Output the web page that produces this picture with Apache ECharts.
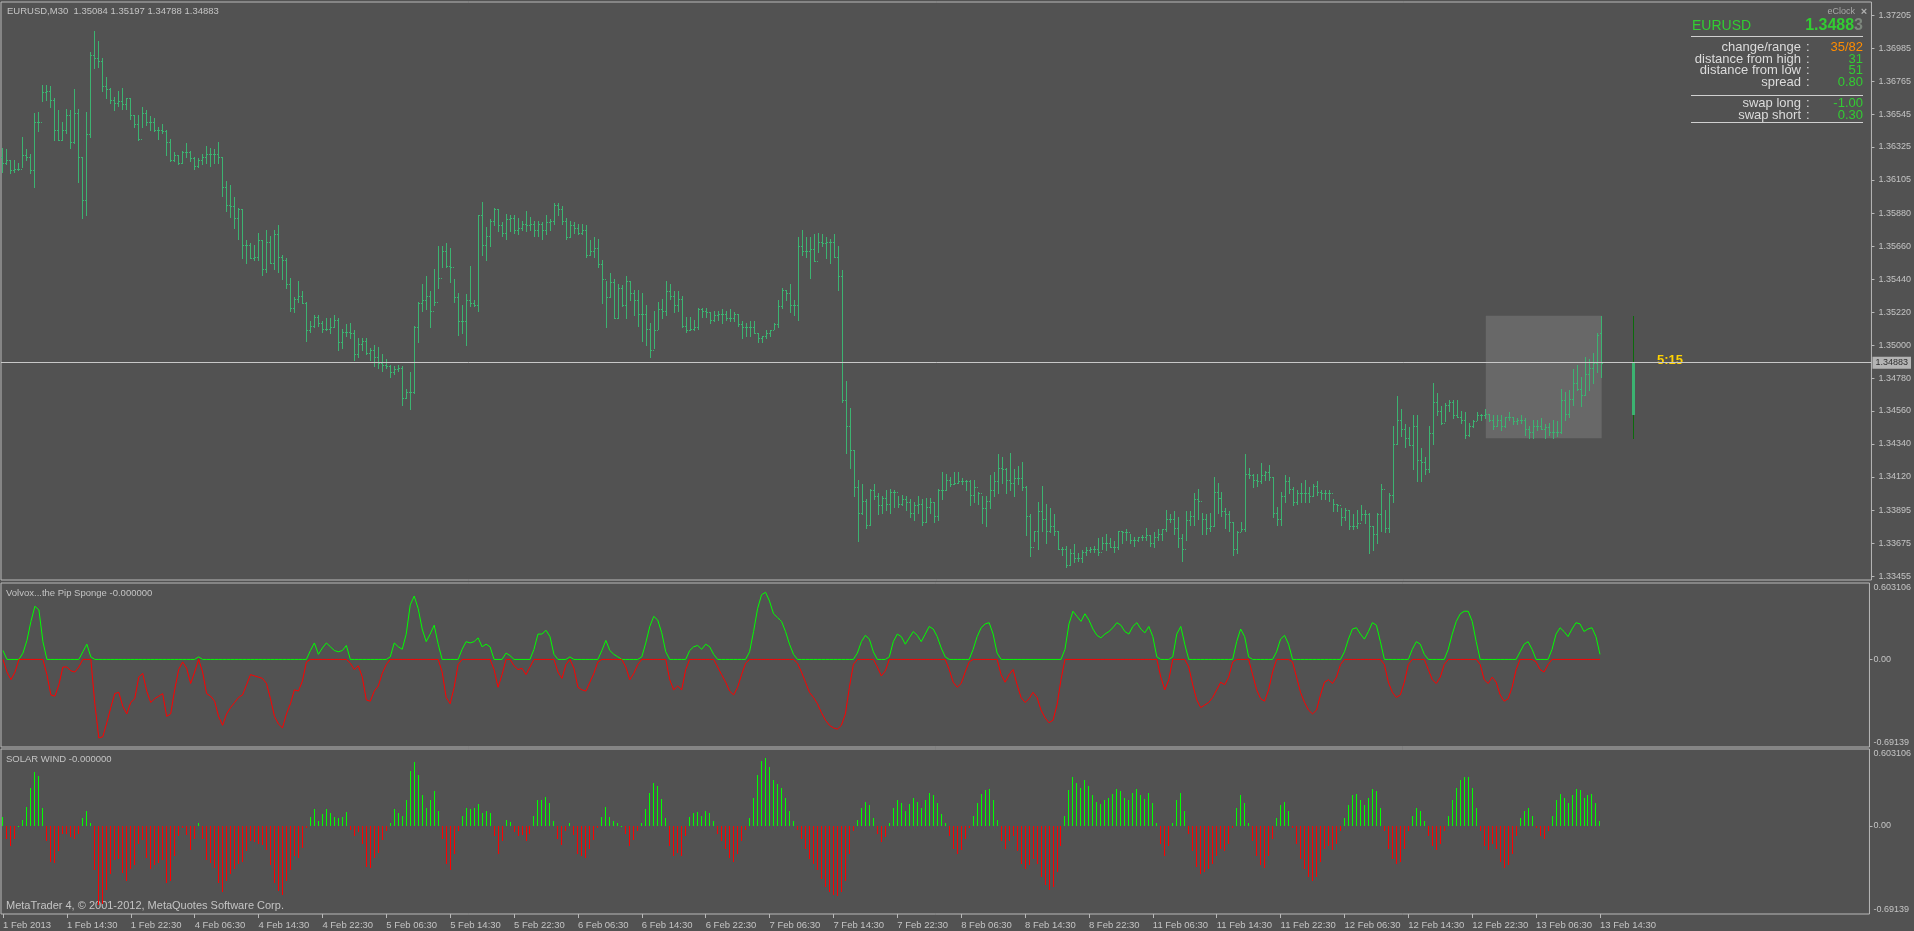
<!DOCTYPE html>
<html>
<head>
<meta charset="utf-8">
<title>EURUSD,M30</title>
<script src="https://cdn.jsdelivr.net/npm/echarts@6/dist/echarts.min.js"></script>
<style>
  html, body { margin: 0; padding: 0; background: #525252; }
  #chart { width: 1914px; height: 931px; }
</style>
</head>
<body>
<div id="chart"></div>
<script>
// ---- data (EURUSD M30, 1 Feb 2013 .. 13 Feb 14:30) ----
const timeLabels = ["1 Feb 2013", "1 Feb 14:30", "1 Feb 22:30", "4 Feb 06:30", "4 Feb 14:30", "4 Feb 22:30",
  "5 Feb 06:30", "5 Feb 14:30", "5 Feb 22:30", "6 Feb 06:30", "6 Feb 14:30", "6 Feb 22:30",
  "7 Feb 06:30", "7 Feb 14:30", "7 Feb 22:30", "8 Feb 06:30", "8 Feb 14:30", "8 Feb 22:30",
  "11 Feb 06:30", "11 Feb 14:30", "11 Feb 22:30", "12 Feb 06:30", "12 Feb 14:30", "12 Feb 22:30",
  "13 Feb 06:30", "13 Feb 14:30"];
const priceTicks = [1.37205, 1.36985, 1.36765, 1.36545, 1.36325, 1.36105, 1.35880, 1.35660, 1.35440,
  1.35220, 1.35000, 1.34780, 1.34560, 1.34340, 1.34120, 1.33895, 1.33675, 1.33455];
const indTicks = [0.603106, 0, -0.69139];
const indTickText = ["0.603106", "0.00", "-0.69139"];

const open = [
1.3626,1.3622,1.3624,1.3617,1.3618,1.3618,1.3627,1.3626,1.3617,1.3649,
1.3649,1.3669,1.3670,1.3664,1.3644,1.3637,1.3644,1.3654,1.3636,1.3655,
1.3626,1.3597,1.3641,1.3694,1.3692,1.3690,1.3673,1.3671,1.3664,1.3662,
1.3663,1.3661,1.3665,1.3654,1.3648,1.3638,1.3655,1.3649,1.3649,1.3644,
1.3644,1.3643,1.3636,1.3624,1.3627,1.3622,1.3629,1.3629,1.3625,1.3620,
1.3624,1.3626,1.3628,1.3628,1.3628,1.3626,1.3606,1.3594,1.3593,1.3585,
1.3591,1.3567,1.3567,1.3558,1.3559,1.3570,1.3551,1.3569,1.3555,1.3574,
1.3559,1.3557,1.3541,1.3525,1.3531,1.3533,1.3528,1.3510,1.3513,1.3519,
1.3515,1.3511,1.3511,1.3512,1.3517,1.3502,1.3509,1.3509,1.3508,1.3494,
1.3501,1.3503,1.3495,1.3497,1.3492,1.3488,1.3487,1.3486,1.3482,1.3484,
1.3485,1.3465,1.3469,1.3469,1.3512,1.3528,1.3530,1.3533,1.3523,1.3529,
1.3545,1.3563,1.3553,1.3552,1.3532,1.3516,1.3516,1.3530,1.3528,1.3527,
1.3587,1.3567,1.3573,1.3583,1.3591,1.3580,1.3575,1.3584,1.3585,1.3577,
1.3578,1.3581,1.3580,1.3581,1.3577,1.3581,1.3577,1.3582,1.3583,1.3594,
1.3591,1.3583,1.3572,1.3580,1.3578,1.3575,1.3577,1.3560,1.3563,1.3565,
1.3554,1.3544,1.3532,1.3542,1.3518,1.3538,1.3527,1.3543,1.3535,1.3530,
1.3521,1.3521,1.3511,1.3497,1.3510,1.3524,1.3523,1.3536,1.3533,1.3527,
1.3531,1.3513,1.3510,1.3511,1.3512,1.3524,1.3523,1.3522,1.3517,1.3520,
1.3521,1.3521,1.3518,1.3518,1.3521,1.3514,1.3512,1.3512,1.3512,1.3508,
1.3505,1.3506,1.3508,1.3510,1.3514,1.3526,1.3537,1.3535,1.3527,1.3527,
1.3566,1.3563,1.3563,1.3564,1.3556,1.3569,1.3568,1.3569,1.3569,1.3559,
1.3546,1.3463,1.3446,1.3430,1.3405,1.3388,1.3396,1.3380,1.3403,1.3399,
1.3393,1.3398,1.3394,1.3402,1.3402,1.3394,1.3397,1.3395,1.3388,1.3393,
1.3394,1.3382,1.3392,1.3395,1.3386,1.3403,1.3403,1.3410,1.3407,1.3408,
1.3409,1.3409,1.3409,1.3400,1.3405,1.3401,1.3391,1.3396,1.3403,1.3409,
1.3418,1.3417,1.3410,1.3408,1.3411,1.3411,1.3405,1.3386,1.3365,1.3376,
1.3389,1.3384,1.3376,1.3379,1.3376,1.3364,1.3364,1.3353,1.3361,1.3358,
1.3358,1.3362,1.3363,1.3364,1.3364,1.3362,1.3368,1.3368,1.3365,1.3365,
1.3376,1.3375,1.3375,1.3370,1.3370,1.3372,1.3372,1.3373,1.3368,1.3372,
1.3374,1.3377,1.3384,1.3384,1.3378,1.3371,1.3364,1.3383,1.3386,1.3397,
1.3396,1.3384,1.3378,1.3379,1.3402,1.3398,1.3389,1.3387,1.3382,1.3364,
1.3375,1.3377,1.3414,1.3413,1.3410,1.3409,1.3413,1.3415,1.3412,1.3388,
1.3384,1.3399,1.3409,1.3404,1.3395,1.3401,1.3401,1.3401,1.3399,1.3406,
1.3402,1.3401,1.3401,1.3401,1.3394,1.3393,1.3385,1.3390,1.3379,1.3379,
1.3381,1.3387,1.3387,1.3379,1.3374,1.3387,1.3404,1.3378,1.3400,1.3434,
1.3450,1.3444,1.3438,1.3433,1.3446,1.3423,1.3422,1.3417,1.3441,1.3462,
1.3456,1.3448,1.3460,1.3462,1.3453,1.3452,1.3450,1.3440,1.3446,1.3449,
1.3453,1.3453,1.3454,1.3450,1.3446,1.3450,1.3446,1.3452,1.3452,1.3449,
1.3450,1.3450,1.3444,1.3442,1.3446,1.3446,1.3444,1.3445,1.3442,1.3442,
1.3442,1.3463,1.3454,1.3464,1.3475,1.3471,1.3467,1.3481,1.3485,1.3488,
1.35084];

const high = [
1.3632,1.3631,1.3624,1.3624,1.3622,1.3639,1.3631,1.3628,1.3655,1.3656,
1.3674,1.3674,1.3673,1.3665,1.3657,1.3649,1.3658,1.3657,1.3671,1.3658,
1.3626,1.3656,1.3696,1.3710,1.3703,1.3692,1.3679,1.3672,1.3666,1.3670,
1.3672,1.3665,1.3665,1.3654,1.3654,1.3659,1.3657,1.3653,1.3652,1.3646,
1.3648,1.3644,1.3638,1.3629,1.3627,1.3630,1.3635,1.3630,1.3626,1.3625,
1.3628,1.3633,1.3632,1.3631,1.3636,1.3626,1.3610,1.3607,1.3599,1.3592,
1.3591,1.3570,1.3568,1.3567,1.3575,1.3570,1.3577,1.3573,1.3577,1.3580,
1.3560,1.3558,1.3545,1.3532,1.3543,1.3536,1.3529,1.3516,1.3520,1.3520,
1.3516,1.3518,1.3518,1.3520,1.3518,1.3511,1.3514,1.3515,1.3510,1.3505,
1.3505,1.3505,1.3498,1.3500,1.3499,1.3494,1.3491,1.3487,1.3486,1.3487,
1.3486,1.3471,1.3482,1.3513,1.3529,1.3541,1.3546,1.3536,1.3551,1.3566,
1.3566,1.3568,1.3565,1.3544,1.3535,1.3527,1.3534,1.3553,1.3530,1.3587,
1.3596,1.3579,1.3584,1.3592,1.3591,1.3582,1.3588,1.3587,1.3587,1.3585,
1.3583,1.3590,1.3586,1.3583,1.3583,1.3582,1.3587,1.3584,1.3595,1.3595,
1.3593,1.3585,1.3583,1.3582,1.3581,1.3581,1.3580,1.3570,1.3572,1.3571,
1.3557,1.3543,1.3548,1.3544,1.3541,1.3540,1.3546,1.3543,1.3537,1.3537,
1.3535,1.3527,1.3515,1.3523,1.3529,1.3531,1.3543,1.3541,1.3536,1.3536,
1.3533,1.3519,1.3519,1.3517,1.3525,1.3525,1.3525,1.3522,1.3523,1.3523,
1.3524,1.3523,1.3524,1.3522,1.3521,1.3516,1.3515,1.3516,1.3516,1.3508,
1.3506,1.3510,1.3510,1.3515,1.3530,1.3538,1.3537,1.3541,1.3530,1.3572,
1.3577,1.3572,1.3572,1.3574,1.3575,1.3574,1.3572,1.3571,1.3574,1.3566,
1.3550,1.3476,1.3458,1.3430,1.3410,1.3407,1.3397,1.3404,1.3407,1.3401,
1.3399,1.3403,1.3404,1.3403,1.3399,1.3400,1.3399,1.3397,1.3395,1.3399,
1.3397,1.3398,1.3398,1.3395,1.3404,1.3415,1.3414,1.3412,1.3415,1.3415,
1.3411,1.3410,1.3410,1.3410,1.3402,1.3399,1.3399,1.3413,1.3415,1.3427,
1.3425,1.3418,1.3428,1.3417,1.3419,1.3422,1.3406,1.3387,1.3376,1.3395,
1.3406,1.3394,1.3391,1.3387,1.3376,1.3365,1.3366,1.3364,1.3367,1.3361,
1.3363,1.3365,1.3365,1.3366,1.3371,1.3372,1.3374,1.3371,1.3369,1.3376,
1.3376,1.3377,1.3374,1.3372,1.3372,1.3373,1.3378,1.3373,1.3375,1.3377,
1.3377,1.3390,1.3387,1.3389,1.3385,1.3374,1.3389,1.3389,1.3401,1.3404,
1.3388,1.3387,1.3388,1.3412,1.3408,1.3402,1.3391,1.3389,1.3382,1.3376,
1.3382,1.3427,1.3418,1.3414,1.3414,1.3421,1.3416,1.3420,1.3412,1.3392,
1.3402,1.3413,1.3412,1.3405,1.3403,1.3408,1.3410,1.3405,1.3407,1.3409,
1.3403,1.3403,1.3403,1.3397,1.3394,1.3391,1.3391,1.3390,1.3387,1.3390,
1.3393,1.3390,1.3388,1.3379,1.3388,1.3407,1.3390,1.3401,1.3446,1.3466,
1.3457,1.3447,1.3445,1.3453,1.3453,1.3431,1.3425,1.3446,1.3475,1.3468,
1.3459,1.3461,1.3463,1.3463,1.3463,1.3456,1.3455,1.3448,1.3450,1.3455,
1.3454,1.3457,1.3454,1.3453,1.3453,1.3453,1.3452,1.3455,1.3452,1.3451,
1.3453,1.3451,1.3446,1.3450,1.3450,1.3451,1.3447,1.3448,1.3450,1.3449,
1.3471,1.3469,1.3470,1.3484,1.3487,1.3479,1.3492,1.3491,1.3495,1.3508,
1.35197];

const low = [
1.3616,1.3621,1.3615,1.3616,1.3617,1.3619,1.3624,1.3615,1.3606,1.3643,
1.3663,1.3664,1.3659,1.3637,1.3637,1.3637,1.3642,1.3632,1.3635,1.3609,
1.3585,1.3587,1.3639,1.3685,1.3686,1.3670,1.3665,1.3662,1.3657,1.3660,
1.3658,1.3658,1.3651,1.3646,1.3637,1.3646,1.3647,1.3644,1.3643,1.3638,
1.3642,1.3627,1.3623,1.3623,1.3621,1.3622,1.3626,1.3623,1.3618,1.3619,
1.3621,1.3622,1.3620,1.3622,1.3622,1.3600,1.3590,1.3586,1.3578,1.3571,
1.3558,1.3555,1.3558,1.3557,1.3557,1.3547,1.3549,1.3555,1.3551,1.3549,
1.3544,1.3538,1.3523,1.3522,1.3529,1.3528,1.3503,1.3509,1.3512,1.3513,
1.3509,1.3510,1.3508,1.3512,1.3497,1.3498,1.3506,1.3505,1.3490,1.3492,
1.3497,1.3494,1.3490,1.3486,1.3485,1.3483,1.3485,1.3479,1.3481,1.3483,
1.3460,1.3465,1.3457,1.3468,1.3502,1.3523,1.3524,1.3512,1.3527,1.3538,
1.3552,1.3552,1.3542,1.3529,1.3507,1.3508,1.3500,1.3526,1.3526,1.3523,
1.3560,1.3557,1.3566,1.3580,1.3576,1.3573,1.3571,1.3576,1.3575,1.3574,
1.3577,1.3576,1.3577,1.3573,1.3573,1.3571,1.3574,1.3577,1.3581,1.3587,
1.3581,1.3571,1.3572,1.3575,1.3574,1.3574,1.3559,1.3560,1.3559,1.3552,
1.3528,1.3512,1.3532,1.3518,1.3518,1.3526,1.3518,1.3530,1.3520,1.3513,
1.3503,1.3500,1.3492,1.3498,1.3511,1.3518,1.3520,1.3531,1.3522,1.3523,
1.3512,1.3509,1.3510,1.3510,1.3511,1.3519,1.3519,1.3515,1.3516,1.3517,
1.3515,1.3517,1.3516,1.3516,1.3513,1.3505,1.3506,1.3506,1.3508,1.3502,
1.3502,1.3505,1.3506,1.3511,1.3512,1.3525,1.3530,1.3522,1.3520,1.3517,
1.3560,1.3559,1.3545,1.3556,1.3562,1.3566,1.3558,1.3555,1.3559,1.3537,
1.3462,1.3428,1.3418,1.3399,1.3369,1.3387,1.3378,1.3380,1.3397,1.3387,
1.3388,1.3390,1.3388,1.3392,1.3392,1.3393,1.3390,1.3385,1.3383,1.3388,
1.3380,1.3382,1.3388,1.3382,1.3383,1.3397,1.3403,1.3406,1.3407,1.3408,
1.3407,1.3403,1.3393,1.3395,1.3394,1.3381,1.3379,1.3391,1.3399,1.3401,
1.3408,1.3401,1.3403,1.3399,1.3407,1.3403,1.3373,1.3359,1.3369,1.3364,
1.3376,1.3368,1.3375,1.3373,1.3364,1.3360,1.3352,1.3353,1.3355,1.3356,
1.3355,1.3360,1.3362,1.3362,1.3360,1.3364,1.3363,1.3365,1.3362,1.3364,
1.3368,1.3370,1.3368,1.3366,1.3369,1.3370,1.3370,1.3366,1.3365,1.3370,
1.3370,1.3376,1.3382,1.3374,1.3365,1.3356,1.3370,1.3380,1.3380,1.3384,
1.3374,1.3374,1.3376,1.3379,1.3388,1.3386,1.3378,1.3376,1.3360,1.3361,
1.3376,1.3376,1.3411,1.3405,1.3406,1.3408,1.3410,1.3410,1.3385,1.3380,
1.3380,1.3395,1.3401,1.3393,1.3394,1.3395,1.3395,1.3395,1.3399,1.3400,
1.3397,1.3397,1.3396,1.3389,1.3389,1.3380,1.3383,1.3377,1.3377,1.3378,
1.3383,1.3381,1.3361,1.3363,1.3368,1.3376,1.3375,1.3375,1.3395,1.3434,
1.3439,1.3432,1.3433,1.3417,1.3409,1.3409,1.3414,1.3415,1.3434,1.3453,
1.3447,1.3449,1.3456,1.3451,1.3452,1.3448,1.3438,1.3439,1.3445,1.3450,
1.3450,1.3451,1.3449,1.3444,1.3446,1.3443,1.3445,1.3450,1.3447,1.3447,
1.3448,1.3440,1.3438,1.3438,1.3443,1.3444,1.3438,1.3440,1.3438,1.3439,
1.3441,1.3450,1.3452,1.3460,1.3470,1.3459,1.3467,1.3470,1.3475,1.3482,
1.34788];

const close = [
1.3622,1.3624,1.3617,1.3618,1.3618,1.3627,1.3626,1.3617,1.3649,1.3649,
1.3669,1.3670,1.3664,1.3644,1.3637,1.3644,1.3654,1.3636,1.3655,1.3626,
1.3597,1.3641,1.3694,1.3692,1.3690,1.3673,1.3671,1.3664,1.3662,1.3663,
1.3661,1.3665,1.3654,1.3648,1.3638,1.3655,1.3649,1.3649,1.3644,1.3644,
1.3643,1.3636,1.3624,1.3627,1.3622,1.3629,1.3629,1.3625,1.3620,1.3624,
1.3626,1.3628,1.3628,1.3628,1.3626,1.3606,1.3594,1.3593,1.3585,1.3591,
1.3567,1.3567,1.3558,1.3559,1.3570,1.3551,1.3569,1.3555,1.3574,1.3559,
1.3557,1.3541,1.3525,1.3531,1.3533,1.3528,1.3510,1.3513,1.3519,1.3515,
1.3511,1.3511,1.3512,1.3517,1.3502,1.3509,1.3509,1.3508,1.3494,1.3501,
1.3503,1.3495,1.3497,1.3492,1.3488,1.3487,1.3486,1.3482,1.3484,1.3485,
1.3465,1.3469,1.3469,1.3512,1.3528,1.3530,1.3533,1.3523,1.3529,1.3545,
1.3563,1.3553,1.3552,1.3532,1.3516,1.3516,1.3530,1.3528,1.3527,1.3587,
1.3567,1.3573,1.3583,1.3591,1.3580,1.3575,1.3584,1.3585,1.3577,1.3578,
1.3581,1.3580,1.3581,1.3577,1.3581,1.3577,1.3582,1.3583,1.3594,1.3591,
1.3583,1.3572,1.3580,1.3578,1.3575,1.3577,1.3560,1.3563,1.3565,1.3554,
1.3544,1.3532,1.3542,1.3518,1.3538,1.3527,1.3543,1.3535,1.3530,1.3521,
1.3521,1.3511,1.3497,1.3510,1.3524,1.3523,1.3536,1.3533,1.3527,1.3531,
1.3513,1.3510,1.3511,1.3512,1.3524,1.3523,1.3522,1.3517,1.3520,1.3521,
1.3521,1.3518,1.3518,1.3521,1.3514,1.3512,1.3512,1.3512,1.3508,1.3505,
1.3506,1.3508,1.3510,1.3514,1.3526,1.3537,1.3535,1.3527,1.3527,1.3566,
1.3563,1.3563,1.3564,1.3556,1.3569,1.3568,1.3569,1.3569,1.3559,1.3546,
1.3463,1.3446,1.3430,1.3405,1.3388,1.3396,1.3380,1.3403,1.3399,1.3393,
1.3398,1.3394,1.3402,1.3402,1.3394,1.3397,1.3395,1.3388,1.3393,1.3394,
1.3382,1.3392,1.3395,1.3386,1.3403,1.3403,1.3410,1.3407,1.3408,1.3409,
1.3409,1.3409,1.3400,1.3405,1.3401,1.3391,1.3396,1.3403,1.3409,1.3418,
1.3417,1.3410,1.3408,1.3411,1.3411,1.3405,1.3386,1.3365,1.3376,1.3389,
1.3384,1.3376,1.3379,1.3376,1.3364,1.3364,1.3353,1.3361,1.3358,1.3358,
1.3362,1.3363,1.3364,1.3364,1.3362,1.3368,1.3368,1.3365,1.3365,1.3376,
1.3375,1.3375,1.3370,1.3370,1.3372,1.3372,1.3373,1.3368,1.3372,1.3374,
1.3377,1.3384,1.3384,1.3378,1.3371,1.3364,1.3383,1.3386,1.3397,1.3396,
1.3384,1.3378,1.3379,1.3402,1.3398,1.3389,1.3387,1.3382,1.3364,1.3375,
1.3377,1.3414,1.3413,1.3410,1.3409,1.3413,1.3415,1.3412,1.3388,1.3384,
1.3399,1.3409,1.3404,1.3395,1.3401,1.3401,1.3401,1.3399,1.3406,1.3402,
1.3401,1.3401,1.3401,1.3394,1.3393,1.3385,1.3390,1.3379,1.3379,1.3381,
1.3387,1.3387,1.3379,1.3374,1.3387,1.3404,1.3378,1.3400,1.3434,1.3450,
1.3444,1.3438,1.3433,1.3446,1.3423,1.3422,1.3417,1.3441,1.3462,1.3456,
1.3448,1.3460,1.3462,1.3453,1.3452,1.3450,1.3440,1.3446,1.3449,1.3453,
1.3453,1.3454,1.3450,1.3446,1.3450,1.3446,1.3452,1.3452,1.3449,1.3450,
1.3450,1.3444,1.3442,1.3446,1.3446,1.3444,1.3445,1.3442,1.3442,1.3442,
1.3463,1.3454,1.3464,1.3475,1.3471,1.3467,1.3481,1.3485,1.3488,1.3507,
1.34883];

// oscillator shown by both sub windows (Pip Sponge lines and SOLAR WIND histogram)
const oscValues = [
0.07,-0.10,-0.16,-0.10,0.00,0.05,0.15,0.30,0.42,0.39,
0.14,-0.12,-0.28,-0.29,-0.20,-0.06,-0.06,-0.09,-0.10,-0.06,
0.06,0.12,0.02,-0.35,-0.62,-0.61,-0.50,-0.38,-0.27,-0.26,
-0.37,-0.43,-0.34,-0.31,-0.14,-0.11,-0.25,-0.34,-0.31,-0.29,
-0.27,-0.45,-0.43,-0.24,-0.08,-0.02,-0.07,-0.19,-0.10,0.02,
-0.10,-0.27,-0.29,-0.33,-0.45,-0.52,-0.43,-0.38,-0.34,-0.30,
-0.28,-0.20,-0.12,-0.13,-0.14,-0.15,-0.19,-0.31,-0.45,-0.51,
-0.54,-0.43,-0.35,-0.24,-0.25,-0.17,-0.02,0.07,0.13,0.04,
0.09,0.13,0.10,0.07,0.06,0.07,0.11,-0.03,-0.08,-0.05,
-0.14,-0.32,-0.33,-0.25,-0.21,-0.11,-0.04,0.02,0.13,0.10,
0.08,0.20,0.43,0.50,0.40,0.24,0.14,0.20,0.27,0.12,
-0.10,-0.30,-0.35,-0.22,-0.04,0.08,0.14,0.13,0.14,0.17,
0.10,0.12,0.10,-0.08,-0.22,-0.12,0.05,0.03,-0.05,-0.08,
-0.07,-0.12,-0.06,0.08,0.20,0.20,0.23,0.18,0.04,-0.10,
-0.15,-0.04,0.02,-0.07,-0.22,-0.24,-0.25,-0.18,-0.11,-0.02,
0.07,0.15,0.07,0.04,0.02,0.00,-0.06,-0.16,-0.11,-0.04,
0.02,0.13,0.26,0.34,0.31,0.21,0.06,-0.16,-0.24,-0.21,
-0.24,-0.08,0.07,0.10,0.11,0.08,0.12,0.10,0.04,-0.06,
-0.12,-0.18,-0.25,-0.28,-0.22,-0.12,-0.03,0.06,0.22,0.40,
0.51,0.53,0.46,0.36,0.33,0.30,0.22,0.12,0.04,-0.03,
-0.10,-0.18,-0.26,-0.30,-0.35,-0.42,-0.48,-0.52,-0.54,-0.55,
-0.52,-0.43,-0.22,-0.04,0.05,0.14,0.19,0.16,0.06,-0.06,
-0.13,-0.09,0.02,0.14,0.20,0.18,0.12,0.17,0.22,0.19,
0.14,0.20,0.26,0.24,0.18,0.09,0.02,-0.08,-0.18,-0.22,
-0.19,-0.10,-0.02,0.08,0.18,0.25,0.28,0.29,0.20,0.05,
-0.12,-0.18,-0.12,-0.08,-0.20,-0.30,-0.34,-0.31,-0.26,-0.30,
-0.40,-0.46,-0.50,-0.48,-0.36,-0.16,0.08,0.28,0.38,0.34,
0.30,0.36,0.31,0.24,0.19,0.17,0.20,0.22,0.25,0.29,
0.27,0.22,0.20,0.26,0.29,0.24,0.21,0.26,0.18,0.02,
-0.14,-0.24,-0.16,0.02,0.20,0.26,0.12,-0.06,-0.20,-0.32,
-0.38,-0.36,-0.34,-0.30,-0.24,-0.18,-0.20,-0.14,-0.02,0.14,
0.24,0.18,0.02,-0.12,-0.24,-0.31,-0.33,-0.24,-0.10,0.06,
0.16,0.19,0.12,-0.02,-0.14,-0.26,-0.34,-0.40,-0.43,-0.40,
-0.28,-0.18,-0.16,-0.19,-0.14,-0.04,0.06,0.16,0.24,0.25,
0.20,0.16,0.22,0.29,0.27,0.14,-0.04,-0.18,-0.26,-0.30,
-0.28,-0.18,-0.04,0.08,0.14,0.12,0.04,-0.08,-0.16,-0.19,
-0.14,-0.04,0.08,0.20,0.30,0.36,0.38,0.38,0.30,0.14,
-0.04,-0.16,-0.19,-0.14,-0.18,-0.28,-0.33,-0.31,-0.22,-0.08,
0.06,0.12,0.14,0.08,-0.02,-0.08,-0.10,-0.04,0.08,0.20,
0.25,0.22,0.18,0.24,0.29,0.28,0.22,0.24,0.25,0.18,
0.04];

// today: first bar index, current bar index, eClock candle slot, day open/high/low, last price
const dayFirstBar = 371;
const dayLastBar = 400;
const clockSlot = 408;
const dayOpen = 1.34533, dayHigh = 1.35197, dayLow = 1.34377, lastPrice = 1.34883;

// ---- chart ----
const SLOTS = 468;
const BAR = '#3cb371';
const TXT = '#c4c4c4';
const BORDER = '#b8b8b8';
const FONT = '"Liberation Sans", Arial, sans-serif';

const cats = [];
for (let i = 0; i < SLOTS; i++) cats.push(String(i));

const bars = close.map((c, i) => [i, open[i], high[i], low[i], c]);

// a time label every 16 bars, only where there is a bar
const hasTimeLabel = (index) => index % 16 === 0 && index / 16 < timeLabels.length;

function renderBar(params, api) {
  const i = api.value(0);
  const pO = api.coord([i, api.value(1)]);
  const pH = api.coord([i, api.value(2)]);
  const pL = api.coord([i, api.value(3)]);
  const pC = api.coord([i, api.value(4)]);
  const cx = Math.floor(pH[0]);
  const top = Math.round(pH[1]);
  const bot = Math.round(pL[1]);
  const style = { fill: BAR };
  return {
    type: 'group',
    children: [
      { type: 'rect', shape: { x: cx, y: top, width: 1, height: Math.max(1, bot - top + 1) }, style },
      { type: 'rect', shape: { x: cx - 1, y: Math.round(pO[1]), width: 1, height: 1 }, style },
      { type: 'rect', shape: { x: cx + 1, y: Math.round(pC[1]), width: 1, height: 1 }, style }
    ]
  };
}

function renderClock(params, api) {
  const i = api.value(0);
  const pO = api.coord([i, api.value(1)]);
  const pH = api.coord([i, api.value(2)]);
  const pL = api.coord([i, api.value(3)]);
  const pC = api.coord([i, api.value(4)]);
  const cx = Math.floor(pH[0]);
  const t = Math.round(Math.min(pO[1], pC[1]));
  const b = Math.round(Math.max(pO[1], pC[1]));
  return {
    type: 'group',
    children: [
      { type: 'rect', shape: { x: cx, y: Math.round(pH[1]), width: 1, height: Math.round(pL[1] - pH[1]) }, style: { fill: '#0b6b0b' } },
      { type: 'rect', shape: { x: cx - 1, y: t, width: 3, height: b - t }, style: { fill: BAR } }
    ]
  };
}

function renderHist(params, api) {
  const i = api.value(0);
  const p = api.coord([i, api.value(1)]);
  const z = api.coord([i, 0]);
  const cx = Math.floor(p[0]);
  const y0 = Math.round(Math.min(p[1], z[1]));
  const y1 = Math.round(Math.max(p[1], z[1]));
  return {
    type: 'rect',
    shape: { x: cx, y: y0, width: 1, height: Math.max(1, y1 - y0) },
    style: { fill: api.value(1) >= 0 ? '#00ff00' : '#ff0000' }
  };
}

function gridBox(top, height) {
  return { left: 1, top: top, width: 1872, height: height, show: true, borderColor: BORDER, borderWidth: 1, backgroundColor: 'transparent' };
}

function xAxisFor(idx, showLabels) {
  return {
    type: 'category', gridIndex: idx, data: cats, boundaryGap: true,
    axisLine: { show: false, onZero: false },
    axisTick: { show: showLabels, interval: hasTimeLabel, alignWithLabel: true, length: 4, lineStyle: { color: BORDER } },
    axisLabel: {
      show: showLabels, interval: hasTimeLabel, align: 'left', margin: 6, color: TXT, fontSize: 9.5, fontFamily: FONT,
      formatter: (v) => timeLabels[+v / 16] || ''
    },
    splitLine: { show: false }
  };
}

function indAxis(idx) {
  return {
    type: 'value', gridIndex: idx, position: 'right', min: -0.69139, max: 0.603106,
    splitLine: { show: false }, axisLine: { show: false },
    axisTick: { show: true, length: 3, customValues: [0], lineStyle: { color: BORDER } },
    axisLabel: {
      customValues: indTicks, color: TXT, fontSize: 9, fontFamily: FONT, margin: 4,
      verticalAlignMaxLabel: 'bottom', verticalAlignMinLabel: 'top',
      formatter: (v) => indTickText[indTicks.indexOf(v)] || ''
    }
  };
}

function txt(x, y, text, fill, font, align) {
  return { type: 'text', x: x, y: y, silent: true,
    style: { text: text, fill: fill, font: font, textAlign: align || 'left', textVerticalAlign: 'middle' } };
}

function sep(y) {
  return { type: 'line', silent: true, shape: { x1: 1691, y1: y + 0.5, x2: 1863, y2: y + 0.5 }, style: { stroke: '#d0d0d0', lineWidth: 1 } };
}

const rows = [
  ['change/range', '35/82', '#ff8c00', 47],
  ['distance from high', '31', '#32cd32', 59],
  ['distance from low', '51', '#32cd32', 70],
  ['spread', '0.80', '#32cd32', 82],
  ['swap long', '-1.00', '#32cd32', 103],
  ['swap short', '0.30', '#32cd32', 115]
];

const graphics = [
  txt(7, 11, 'EURUSD,M30  1.35084 1.35197 1.34788 1.34883', TXT, '9.5px ' + FONT),
  txt(6, 593, 'Volvox...the Pip Sponge -0.000000', TXT, '9.5px ' + FONT),
  txt(6, 759, 'SOLAR WIND -0.000000', TXT, '9.5px ' + FONT),
  txt(6, 906, 'MetaTrader 4, \u00a9 2001-2012, MetaQuotes Software Corp.', TXT, '11px ' + FONT),
  txt(1855, 12, 'eClock', '#a8a8a8', '9px ' + FONT, 'right'),
  txt(1864, 12, '\u00d7', '#b0b0b0', 'bold 11px ' + FONT, 'center'),
  txt(1692, 26, 'EURUSD', '#32cd32', '14px ' + FONT),
  {
    type: 'text', x: 1863, y: 26, silent: true,
    style: {
      text: '{a|1.3488}{b|3}', textAlign: 'right', textVerticalAlign: 'middle',
      rich: {
        a: { fill: '#32cd32', font: 'bold 16px ' + FONT },
        b: { fill: '#7d877d', font: 'bold 16px ' + FONT }
      }
    }
  },
  sep(36), sep(95), sep(122),
  txt(1657, 360, '5:15', '#ffd200', 'bold 13px ' + FONT)
];
rows.forEach(r => {
  graphics.push(txt(1801, r[3], r[0], '#dcdcdc', '13px ' + FONT, 'right'));
  graphics.push(txt(1806, r[3], ':', '#dcdcdc', '13px ' + FONT, 'left'));
  graphics.push(txt(1863, r[3], r[1], r[2], '13px ' + FONT, 'right'));
});

const myChart = echarts.init(document.getElementById('chart'), null, { renderer: 'canvas' });
myChart.setOption({
  backgroundColor: '#525252',
  animation: false,
  grid: [gridBox(2, 578), gridBox(583, 164), gridBox(749, 165)],
  xAxis: [xAxisFor(0, false), xAxisFor(1, false), xAxisFor(2, true)],
  yAxis: [
    {
      type: 'value', gridIndex: 0, position: 'right', min: 1.33430, max: 1.37294,
      splitLine: { show: false }, axisLine: { show: false },
      axisTick: { show: true, length: 3, customValues: priceTicks, lineStyle: { color: BORDER } },
      axisLabel: { customValues: priceTicks, color: TXT, fontSize: 9, fontFamily: FONT, margin: 7,
        formatter: (v) => v.toFixed(5) }
    },
    indAxis(1),
    indAxis(2)
  ],
  series: [
    {
      name: 'EURUSD', type: 'custom', xAxisIndex: 0, yAxisIndex: 0, clip: true,
      renderItem: renderBar, encode: { x: 0, y: [1, 2, 3, 4] }, data: bars,
      markArea: {
        silent: true, itemStyle: { color: 'rgba(255,255,255,0.13)' },
        data: [[{ xAxis: dayFirstBar, yAxis: dayHigh }, { xAxis: dayLastBar, yAxis: dayLow }]]
      },
      markLine: {
        silent: true, symbol: ['none', 'none'], animation: false, precision: 5,
        lineStyle: { color: '#c8c8c8', width: 1, type: 'solid' },
        label: { position: 'end', distance: 1, formatter: lastPrice.toFixed(5), color: '#2e2e2e',
          backgroundColor: '#b4b4b4', padding: [2, 3, 1, 3], fontSize: 9, fontFamily: FONT },
        data: [{ yAxis: lastPrice }]
      }
    },
    {
      name: 'eClock', type: 'custom', xAxisIndex: 0, yAxisIndex: 0,
      renderItem: renderClock, encode: { x: 0, y: [1, 2, 3, 4] },
      data: [[clockSlot, dayOpen, dayHigh, dayLow, lastPrice]]
    },
    {
      name: 'Pip Sponge +', type: 'line', xAxisIndex: 1, yAxisIndex: 1, showSymbol: false,
      lineStyle: { color: '#00ff00', width: 1 }, data: oscValues.map(v => Math.max(v, 0))
    },
    {
      name: 'Pip Sponge -', type: 'line', xAxisIndex: 1, yAxisIndex: 1, showSymbol: false,
      lineStyle: { color: '#ff0000', width: 1 }, data: oscValues.map(v => Math.min(v, 0))
    },
    {
      name: 'SOLAR WIND', type: 'custom', xAxisIndex: 2, yAxisIndex: 2,
      renderItem: renderHist, encode: { x: 0, y: 1 }, data: oscValues.map((v, i) => [i, v])
    }
  ],
  graphic: graphics
});
</script>
</body>
</html>
